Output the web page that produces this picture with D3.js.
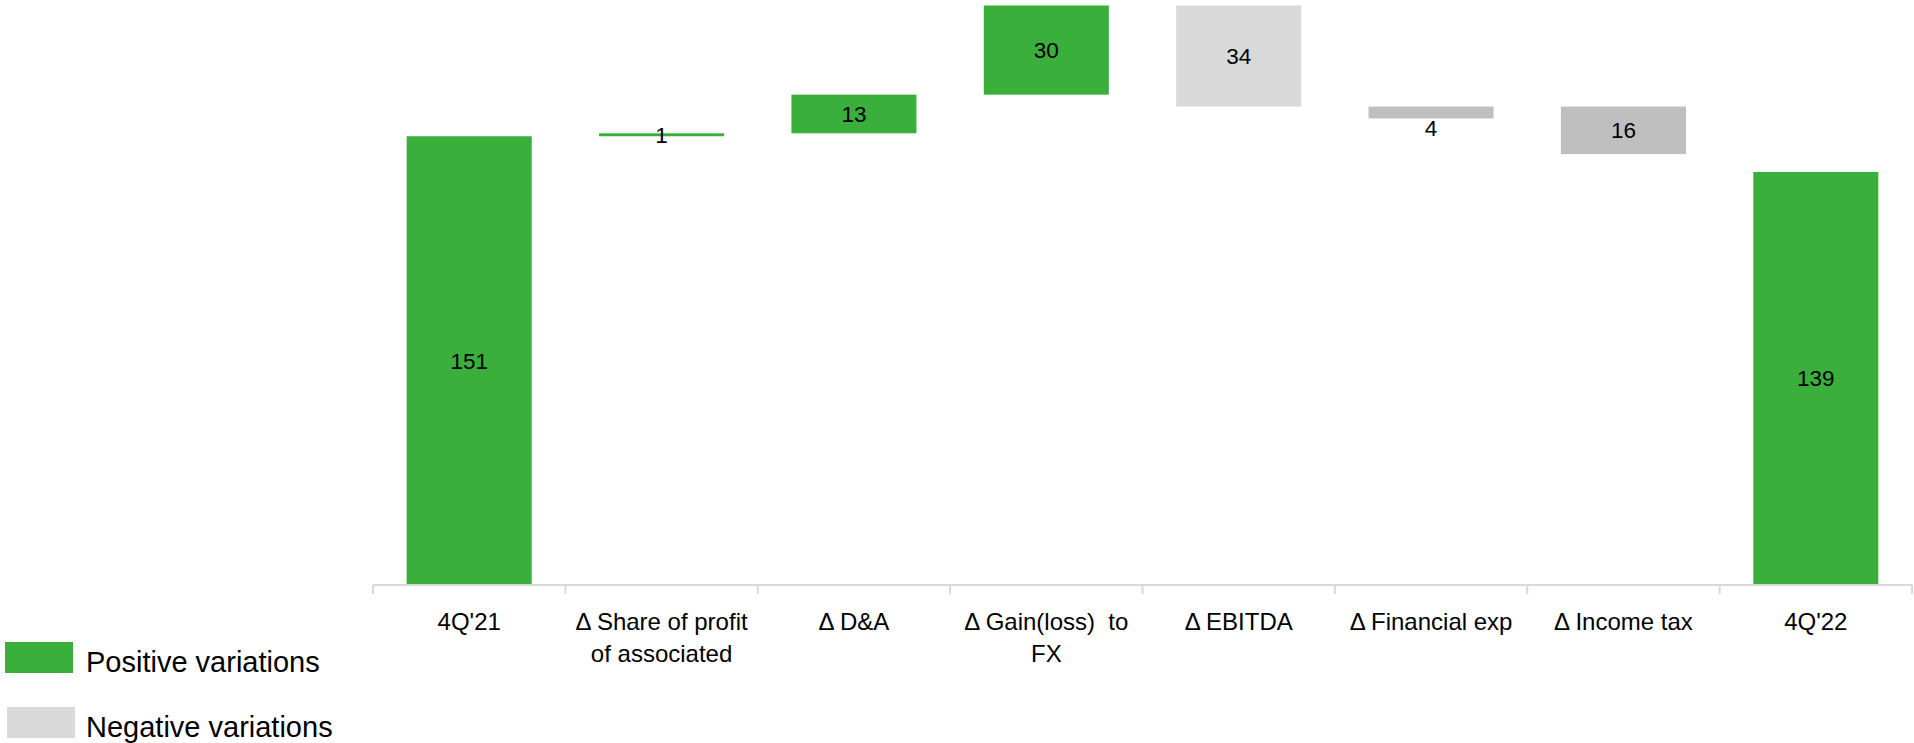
<!DOCTYPE html>
<html>
<head>
<meta charset="utf-8">
<script src="https://cdn.jsdelivr.net/npm/d3@7"></script>
<style>
  body { margin: 0; background: #fff; }
  text { font-family: "Liberation Sans", Arial, sans-serif; }
</style>
</head>
<body>
<script>
let categories = ["4Q'21", "Δ Share of profit\nof associated", "Δ D&A", "Δ Gain(loss)  to\nFX", "Δ EBITDA", "Δ Financial exp", "Δ Income tax", "4Q'22"]
let values = [151, 1, 13, 30, 34, 4, 16, 139]
let bases = [0, 151, 152, 165, 161, 157, 145, 0]
let kinds = ['total', 'pos', 'pos', 'pos', 'neg', 'neg2', 'neg2', 'total']
let legendLabels = ['Positive variations', 'Negative variations']

let colors = { total: '#3baf3b', pos: '#3baf3b', neg: '#d9d9d9', neg2: '#bfbfbf' }

let width = 1914
let height = 743
let margin = { top: 5, left: 373, right: 2, bottom: 158 }

let bars = categories.map((c, i) => ({ cat: c, value: values[i], base: bases[i], kind: kinds[i] }))

let x = d3.scaleBand()
    .domain(categories)
    .range([margin.left, width - margin.right])
    .paddingInner(0.35)
    .paddingOuter(0.175)

let y = d3.scaleLinear()
    .domain([0, 195])
    .range([height - margin.bottom, margin.top + 0.5])

let svg = d3.select('body')
    .append('svg')
    .attr('width', width)
    .attr('height', height)

svg.selectAll('rect.bar')
    .data(bars)
    .enter()
    .append('rect')
    .attr('class', 'bar')
    .attr('x', d => x(d.cat))
    .attr('width', x.bandwidth())
    .attr('y', d => y(d.base + d.value))
    .attr('height', d => y(d.base) - y(d.base + d.value))
    .attr('fill', d => colors[d.kind])

// axis: baseline plus ticks on the band edges
let step = x.step()
let axisY = y(0)
let axis = svg.append('g').attr('stroke', '#d9d9d9').attr('stroke-width', 2)
axis.append('line')
    .attr('x1', margin.left).attr('x2', width - margin.right)
    .attr('y1', axisY).attr('y2', axisY)
axis.selectAll('line.tick')
    .data(d3.range(categories.length + 1))
    .enter()
    .append('line')
    .attr('class', 'tick')
    .attr('x1', i => margin.left + i * step)
    .attr('x2', i => margin.left + i * step)
    .attr('y1', axisY)
    .attr('y2', axisY + 9)

// category labels
let catText = svg.selectAll('text.cat')
    .data(bars)
    .enter()
    .append('text')
    .attr('class', 'cat')
    .attr('text-anchor', 'middle')
    .attr('font-size', 24)
    .attr('fill', '#000')

catText.selectAll('tspan')
    .data(d => d.cat.split('\n').map(line => ({ line, cx: x(d.cat) + x.bandwidth() / 2 })))
    .enter()
    .append('tspan')
    .attr('x', d => d.cx)
    .attr('y', (d, i) => axisY + 45 + i * 32)
    .attr('xml:space', 'preserve')
    .style('white-space', 'pre')
    .text(d => d.line)

// value labels, centred in the bar; thin negative bars get theirs underneath
svg.selectAll('text.val')
    .data(bars)
    .enter()
    .append('text')
    .attr('class', 'val')
    .attr('text-anchor', 'middle')
    .attr('font-size', 22.5)
    .attr('fill', '#000')
    .attr('x', d => x(d.cat) + x.bandwidth() / 2)
    .attr('y', d => {
        let top = y(d.base + d.value)
        let bottom = y(d.base)
        if (d.kind !== 'pos' && d.kind !== 'total' && bottom - top < 20) return bottom + 18
        return (top + bottom) / 2 + 8
    })
    .text(d => d.value)

// legend
let legend = svg.selectAll('g.legend')
    .data(legendLabels)
    .enter()
    .append('g')
    .attr('class', 'legend')
    .attr('transform', (d, i) => 'translate(' + (5 + i * 2) + ',' + (642 + i * 65) + ')')

legend.append('rect')
    .attr('width', 68)
    .attr('height', 31)
    .attr('fill', (d, i) => i === 0 ? colors.pos : colors.neg)

legend.append('text')
    .attr('x', (d, i) => 81 - i * 2)
    .attr('y', 30)
    .attr('font-size', 29)
    .attr('fill', '#000')
    .text(d => d)
</script>
</body>
</html>
